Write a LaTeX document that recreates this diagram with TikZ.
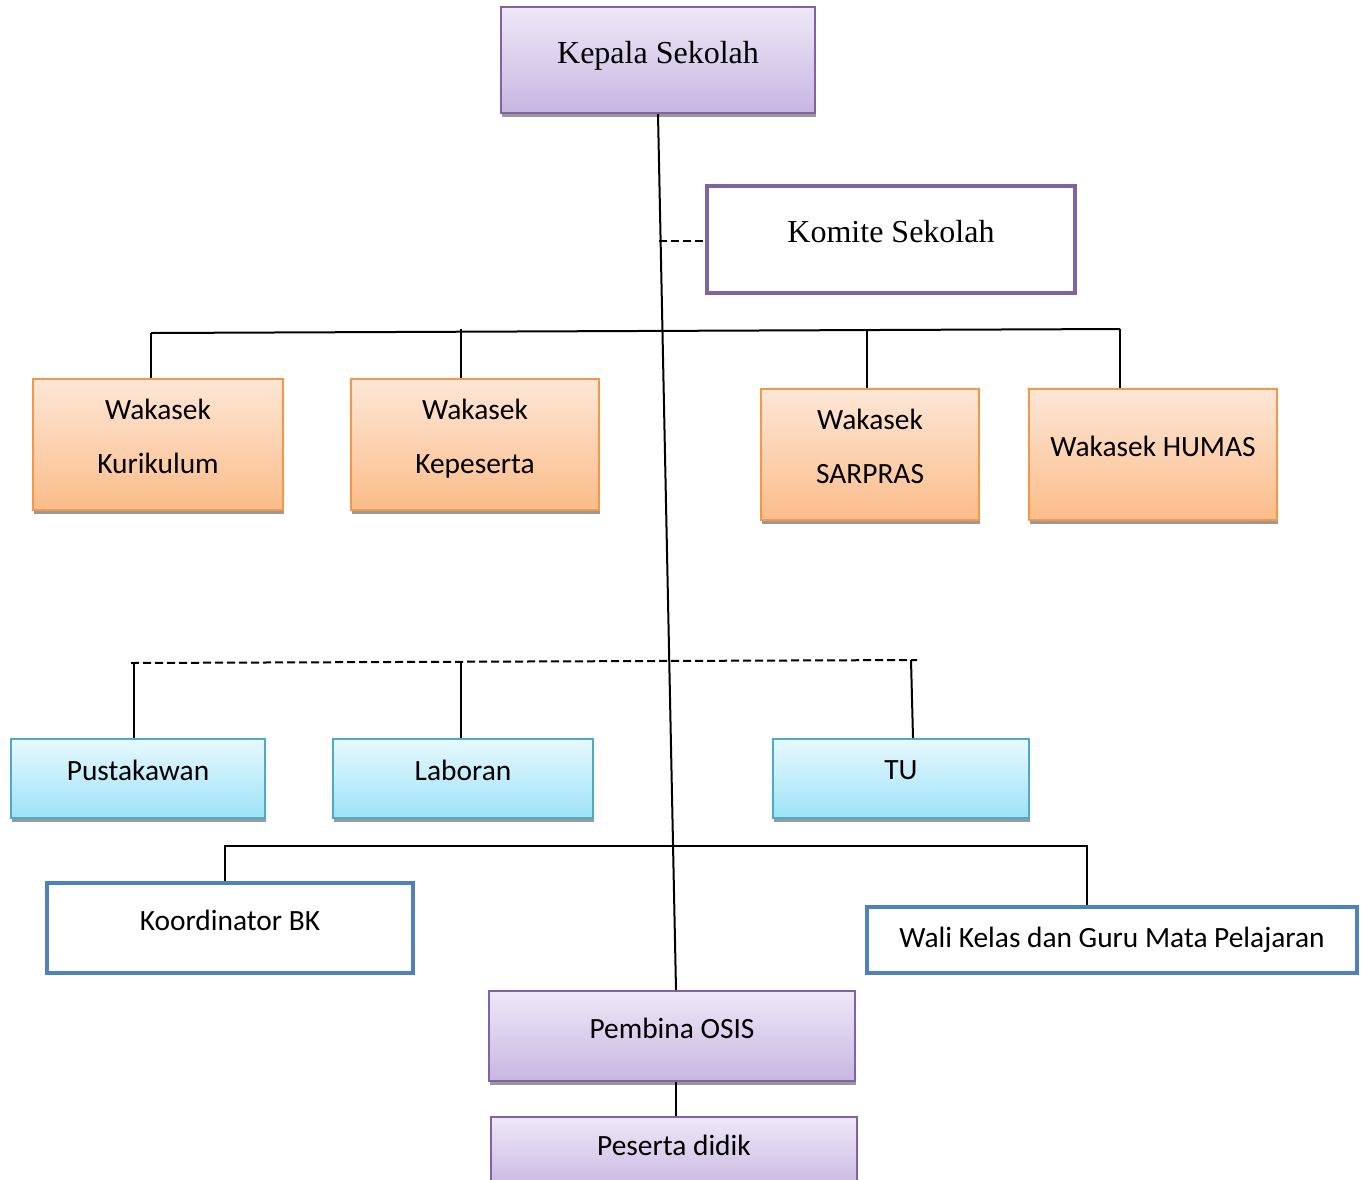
\documentclass[tikz,border=0pt]{standalone}
\usepackage{fontspec}
\setmainfont{Carlito}
\newfontfamily\timesfont{Liberation Serif}
\usetikzlibrary{shadows}
\definecolor{purpleline}{HTML}{8064A2}
\definecolor{purpletop}{HTML}{EEE8F7}
\definecolor{purplebot}{HTML}{C8B6E2}
\definecolor{orangeline}{HTML}{F79646}
\definecolor{orangetop}{HTML}{FDE7D7}
\definecolor{orangebot}{HTML}{FBBC89}
\definecolor{cyanline}{HTML}{4BACC6}
\definecolor{cyantop}{HTML}{E8F9FE}
\definecolor{cyanbot}{HTML}{9DE2F7}
\definecolor{blueline}{HTML}{4F81BD}
\begin{document}
\begin{tikzpicture}[x=0.5pt,y=-0.5pt]
		\tikzset{box/.style = {shape=rectangle,draw,inner sep=0pt,align=center,text depth=8pt,font=\fontsize{14.7}{27}\selectfont}}
		\tikzset{shaded/.style = {box,line width=1pt,drop shadow={shadow xshift=0.5pt,shadow yshift=-2pt,fill=black!40,opacity=1}}}
		\tikzset{lilac/.style = {shaded,draw=purpleline,top color=purpletop,bottom color=purplebot}}
		\tikzset{peach/.style = {shaded,draw=orangeline,top color=orangetop,bottom color=orangebot}}
		\tikzset{sky/.style = {shaded,draw=cyanline,top color=cyantop,bottom color=cyanbot}}
		\tikzset{plain/.style = {box,line width=2pt,fill=white}}
		\tikzset{link/.style = {line width=1pt}}
		\tikzset{dotlink/.style = {line width=1pt,dash pattern=on 4pt off 2pt}}
		\useasboundingbox (0,0) rectangle (1363,1179);
		\node[lilac,minimum width=157pt,minimum height=53pt,font=\timesfont\fontsize{16}{19}\selectfont] (kepala) at (658,60) {Kepala Sekolah};
		\node[plain,draw=purpleline,minimum width=184pt,minimum height=53.5pt,font=\timesfont\fontsize{16}{19}\selectfont] (komite) at (891,239.5) {Komite Sekolah};
		\node[peach,minimum width=125pt,minimum height=65.5pt] (kuri) at (158,444.5) {Wakasek\\Kurikulum};
		\node[peach,minimum width=124pt,minimum height=65.5pt] (kepes) at (475,444.5) {Wakasek\\Kepeserta};
		\node[peach,minimum width=109pt,minimum height=65.5pt] (sarpras) at (870,454.5) {Wakasek\\SARPRAS};
		\node[peach,minimum width=124pt,minimum height=65.5pt] (humas) at (1153,454.5) {Wakasek HUMAS};
		\node[sky,minimum width=127pt,minimum height=39.5pt] (pustaka) at (138,778.5) {Pustakawan};
		\node[sky,minimum width=130pt,minimum height=39.5pt] (laboran) at (463,778.5) {Laboran};
		\node[sky,minimum width=128pt,minimum height=39.5pt] (tu) at (901,778.5) {TU};
		\node[plain,draw=blueline,minimum width=183pt,minimum height=45pt] (bk) at (230,928) {Koordinator BK};
		\node[plain,draw=blueline,minimum width=245pt,minimum height=33pt,text depth=2.5pt] (wali) at (1112,940) {Wali Kelas dan Guru Mata Pelajaran};
		\node[lilac,minimum width=183pt,minimum height=45pt] (osis) at (672,1036) {Pembina OSIS};
		\node[lilac,minimum width=183pt,minimum height=36.5pt] (peserta) at (674,1153.5) {Peserta didik};
		\coordinate (k1) at (659,241);
		\coordinate (barL) at (151,333);
		\coordinate (b2) at (461,329);
		\coordinate (b3) at (867,330);
		\coordinate (barR) at (1120,329);
		\coordinate (dbL) at (131,663);
		\coordinate (d1) at (134,663);
		\coordinate (d2) at (461,662);
		\coordinate (d3) at (911,660);
		\coordinate (dbR) at (917,660);
		\coordinate (lbL) at (225,846);
		\coordinate (lbR) at (1087,846);
		\draw[link] (kepala.south) -- ([xshift=2pt]osis.north);
		\draw[dotlink] (k1) -- (k1 -| komite.west);
		\draw[link] (barL) -- (barR);
		\draw[link] (barL) -- (barL |- kuri.north);
		\draw[link] (b2) -- (b2 |- kepes.north);
		\draw[link] (b3) -- (b3 |- sarpras.north);
		\draw[link] (barR) -- (barR |- humas.north);
		\draw[dotlink] (dbL) -- (dbR);
		\draw[link] (d1) -- (d1 |- pustaka.north);
		\draw[link] (d2) -- (d2 |- laboran.north);
		\draw[link] (d3) -- ([xshift=1pt]d3 |- tu.north);
		\draw[link] (lbL |- bk.north) -- (lbL) -- (lbR) -- (lbR |- wali.north);
		\draw[link] ([xshift=2pt]osis.south) -- ([xshift=1pt]peserta.north);
	\end{tikzpicture}
\end{document}
